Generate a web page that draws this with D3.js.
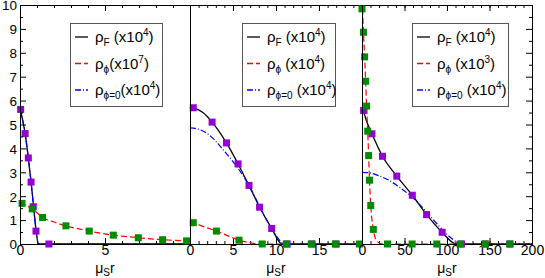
<!DOCTYPE html>
<html>
<head>
<meta charset="utf-8">
<script src="https://cdn.jsdelivr.net/npm/d3@7"></script>
<style>
  body { margin: 0; background: #fff; }
  text { font-family: "Liberation Sans", Arial, sans-serif; fill: #000; }
</style>
</head>
<body>
<div id="chart"></div>
<script>
// ---------------------------- DATA ----------------------------//
// left panel  (mu_S r from 0 to 10)
const leftRhoF    = [[0,5.66],[0.15,5.2],[0.3,4.62],[0.49,3.6],[0.65,2.6],[0.8,1.56],[0.95,0.54],[1.08,0],[10,0]];
const leftRhoPhi  = [[0,1.72],[0.4,1.6],[0.8,1.43],[1.33,1.11],[2,0.92],[2.7,0.76],[3.4,0.64],[4.07,0.54],[5.5,0.37],[7,0.26],[8.4,0.18],[10,0.12]];
const leftRhoPhi0 = [[0,5.66],[0.15,5.2],[0.3,4.62],[0.49,3.6],[0.65,2.6],[0.8,1.56],[0.95,0.54],[1.1,0],[10,0]];
const leftGreen   = [[0.12,1.7],[0.72,1.47],[1.33,1.11],[2.7,0.76],[4.07,0.54],[5.49,0.37],[6.96,0.26],[8.39,0.18],[9.8,0.13]];
const leftViolet  = [[0.04,5.63],[0.3,4.62],[0.49,3.6],[0.65,2.59],[0.78,1.56],[0.94,0.54],[1.7,0]];

// middle panel (mu_S r from 0 to 20)
const midRhoF    = [[0,5.72],[0.4,5.7],[1.5,5.5],[2.57,5.1],[4.24,4.23],[5.59,3.35],[6.86,2.45],[8.09,1.54],[9.5,0.65],[10.7,0],[20,0]];
const midRhoPhi  = [[0,0.9],[0.4,0.88],[1.5,0.74],[3.07,0.54],[4.3,0.36],[5.7,0.16],[7,0.05],[8.2,0],[20,0]];
const midRhoPhi0 = [[0,4.86],[1,4.8],[2,4.62],[3,4.3],[4,3.88],[5,3.45],[6,2.95],[7,2.35],[8,1.65],[9,0.95],[10,0.35],[11,0],[20,0]];
const midGreen   = [[0.38,0.89],[3.07,0.54],[5.7,0.16],[8.4,0],[11.2,0],[14.1,0],[16.9,0],[19.7,0]];
const midViolet  = [[0.38,5.7],[2.57,5.1],[4.24,4.23],[5.59,3.35],[6.86,2.45],[8.09,1.54],[9.5,0.65],[11.3,0],[14.2,0],[17,0]];

// right panel (mu_S r from 0 to 200)
const rightRhoF    = [[0,5.72],[2,5.52],[5,5.18],[11.7,4.61],[24.1,3.67],[40.9,2.84],[59.2,2.04],[76,1.23],[94.3,0.49],[111,0],[200,0]];
const rightRhoPhi  = [[0,10.6],[1.7,8.86],[3.1,7.83],[4.3,6.81],[5.4,5.77],[6.7,4.72],[7.8,3.7],[8.8,2.67],[10.3,1.61],[13.3,0.61],[17,0.15],[22,0.02],[30,0],[200,0]];
const rightRhoPhi0 = [[0,3.0],[10,2.97],[20,2.85],[30,2.7],[40,2.48],[50,2.22],[60,1.92],[70,1.57],[80,1.17],[90,0.77],[100,0.4],[110,0.12],[117,0],[200,0]];
const rightGreen   = [[0,9.84],[1.7,8.86],[3.1,7.83],[4.3,6.81],[5.4,5.77],[6.7,4.72],[7.8,3.7],[8.8,2.67],[10.3,1.61],[13.3,0.61],[30,0],[59,0],[88,0],[116,0],[145,0],[174,0]];
const rightViolet  = [[1.9,5.59],[11.7,4.61],[24.1,3.67],[40.9,2.84],[59.2,2.04],[76,1.23],[94.3,0.49],[117,0],[145,0],[174,0]];

const yTickValues = [0,1,2,3,4,5,6,7,8,9,10];
const leftXLabels  = [0,5];
const midXLabels   = [0,5,10,15];
const rightXLabels = [0,50,100,150,200];
const phiScales = ["7","4","3"];

// ---------------------------- LAYOUT ----------------------------//
const width = 545, height = 278;
const plotTop = 5, plotBottom = 244;

const svg = d3.select("#chart").append("svg")
  .attr("width", width)
  .attr("height", height);

const y = d3.scaleLinear().domain([0,10]).range([plotBottom, plotTop]);

const panels = [
  {x0:20,  x1:190, dom:[0,10],  minor:1,  major:5,  labels:leftXLabels,
   F:leftRhoF, P:leftRhoPhi, P0:leftRhoPhi0, G:leftGreen, V:leftViolet, legX:70,  legW:92},
  {x0:190, x1:362, dom:[0,20],  minor:1,  major:5,  labels:midXLabels,
   F:midRhoF, P:midRhoPhi, P0:midRhoPhi0, G:midGreen, V:midViolet, legX:242, legW:93},
  {x0:362, x1:532, dom:[0,200], minor:10, major:50, labels:rightXLabels,
   F:rightRhoF, P:rightRhoPhi, P0:rightRhoPhi0, G:rightGreen, V:rightViolet, legX:412, legW:96}
];

const line = (x) => d3.line()
  .x(d => x(d[0]))
  .y(d => y(d[1]))
  .curve(d3.curveMonotoneX);

panels.forEach(function (p, i) {
  const x = d3.scaleLinear().domain(p.dom).range([p.x0, p.x1]);
  const g = svg.append("g");

  const clipId = "clip" + i;
  svg.append("clipPath").attr("id", clipId)
    .append("rect").attr("x", p.x0).attr("y", plotTop)
    .attr("width", p.x1 - p.x0).attr("height", plotBottom - plotTop);

  const minorTicks = d3.range(p.dom[0], p.dom[1] + 0.001, p.minor);
  const majorTicks = d3.range(p.dom[0], p.dom[1] + 0.001, p.major);

  // bottom axis: minor ticks, then major ticks with labels
  g.append("g").attr("transform", "translate(0," + plotBottom + ")")
    .call(d3.axisBottom(x).tickValues(minorTicks).tickSizeInner(-3).tickSizeOuter(0).tickFormat(""));
  g.append("g").attr("transform", "translate(0," + plotBottom + ")")
    .call(d3.axisBottom(x).tickValues(majorTicks).tickSizeInner(-6).tickSizeOuter(0).tickPadding(1)
      .tickFormat(d => p.labels.includes(d) ? d : ""))
    .call(a => a.selectAll("text").style("font-size", "14px"));

  // top axis
  g.append("g").attr("transform", "translate(0," + plotTop + ")")
    .call(d3.axisTop(x).tickValues(minorTicks).tickSizeInner(-3).tickSizeOuter(0).tickFormat(""));
  g.append("g").attr("transform", "translate(0," + plotTop + ")")
    .call(d3.axisTop(x).tickValues(majorTicks).tickSizeInner(-6).tickSizeOuter(0).tickFormat(""));

  // x axis title
  const xt = g.append("text")
    .attr("x", (p.x0 + p.x1) / 2).attr("y", 273)
    .attr("text-anchor", "middle")
    .style("font-size", "14px");
  xt.append("tspan").text("\u03bc");
  xt.append("tspan").attr("dy", 3).style("font-size", "10px").text("S");
  xt.append("tspan").attr("dy", -3).text("r");

  // curves
  const plot = g.append("g").attr("clip-path", "url(#" + clipId + ")");
  plot.append("path").attr("d", line(x)(p.F))
    .style("fill", "none").style("stroke", "#000").style("stroke-width", 1.3);
  plot.append("path").attr("d", line(x)(p.P0))
    .style("fill", "none").style("stroke", "#0000ff").style("stroke-width", 1.2)
    .style("stroke-dasharray", "6,2,1,2");
  plot.append("path").attr("d", line(x)(p.P))
    .style("fill", "none").style("stroke", "#ff0000").style("stroke-width", 1.2)
    .style("stroke-dasharray", "6,3");

  // markers
  const s = 7;
  g.selectAll(null).data(p.V).enter().append("rect")
    .attr("x", d => x(d[0]) - s / 2).attr("y", d => y(d[1]) - s / 2)
    .attr("width", s).attr("height", s).style("fill", "#9400d3");
  g.selectAll(null).data(p.G).enter().append("rect")
    .attr("x", d => x(d[0]) - s / 2).attr("y", d => y(d[1]) - s / 2)
    .attr("width", s).attr("height", s).style("fill", "#008b00");

  // left border of each panel
  g.append("line").attr("x1", p.x0 + 0.5).attr("x2", p.x0 + 0.5)
    .attr("y1", plotTop).attr("y2", plotBottom).style("stroke", "#000");

  // legend
  const lx = p.legX, ly = 23;
  g.append("rect").attr("x", lx + 0.5).attr("y", ly + 0.5)
    .attr("width", p.legW).attr("height", 83)
    .style("fill", "#fff").style("stroke", "#555");
  const rows = [
    {stroke:"#000", dash:null, sub:"F", pow:"4"},
    {stroke:"#ff0000", dash:"6,3", sub:"\u03d5", pow:phiScales[i]},
    {stroke:"#0000ff", dash:"6,2,1,2", sub:"\u03d5=0", pow:"4"}
  ];
  rows.forEach(function (r, k) {
    const ry = ly + 14 + k * 26.5;
    g.append("line").attr("x1", lx + 5).attr("x2", lx + 18)
      .attr("y1", ry).attr("y2", ry)
      .style("stroke", r.stroke).style("stroke-width", 1.3)
      .style("stroke-dasharray", r.dash);
    const t = g.append("text").attr("x", lx + 25).attr("y", ry + 5)
      .style("font-size", "15px");
    t.append("tspan").text("\u03c1");
    t.append("tspan").attr("dy", 4).style("font-size", "10px").text(r.sub);
    t.append("tspan").attr("dy", -4).text(i === 0 && k > 0 ? "(x10" : " (x10");
    t.append("tspan").attr("dy", -6).style("font-size", "10px").text(r.pow);
    t.append("tspan").attr("dy", 6).text(")");
  });
});

// left y axis with labels
const yMinor = d3.range(0.5, 10, 1);
svg.append("g").attr("transform", "translate(20,0)")
  .call(d3.axisLeft(y).tickValues(yMinor).tickSizeInner(-3).tickSizeOuter(0).tickFormat(""));
svg.append("g").attr("transform", "translate(20,0)")
  .call(d3.axisLeft(y).tickValues(yTickValues).tickSizeInner(-6).tickSizeOuter(0).tickPadding(3))
  .call(a => a.selectAll("text").style("font-size", "13.5px").attr("dy", "0.36em"));

// right y axis, ticks only
svg.append("g").attr("transform", "translate(532,0)")
  .call(d3.axisRight(y).tickValues(yMinor).tickSizeInner(-3).tickSizeOuter(0).tickFormat(""));
svg.append("g").attr("transform", "translate(532,0)")
  .call(d3.axisRight(y).tickValues(yTickValues).tickSizeInner(-6).tickSizeOuter(0).tickFormat(""));

svg.selectAll(".domain").style("stroke", "#000");
svg.selectAll(".tick line").style("stroke", "#000");
</script>
</body>
</html>
